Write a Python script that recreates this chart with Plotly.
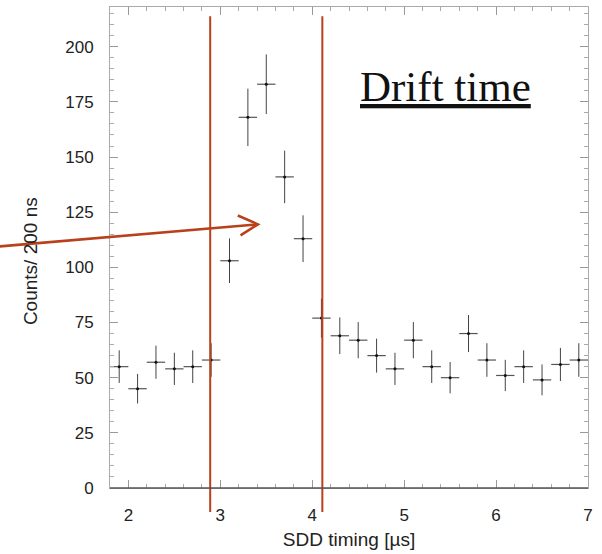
import plotly.graph_objects as go

# ---- data ----
bin_centers = [1.9, 2.1, 2.3, 2.5, 2.7, 2.9, 3.1, 3.3, 3.5, 3.7, 3.9, 4.1, 4.3,
               4.5, 4.7, 4.9, 5.1, 5.3, 5.5, 5.7, 5.9, 6.1, 6.3, 6.5, 6.7, 6.9]
counts = [55, 45, 57, 54, 55, 58, 103, 168, 183, 141, 113, 77, 69,
          67, 60, 54, 67, 55, 50, 70, 58, 51, 55, 49, 56, 58]
count_errors = [7.4, 6.7, 7.5, 7.3, 7.4, 7.6, 10.1, 13.0, 13.5, 11.9, 10.6, 8.8, 8.3,
                8.2, 7.7, 7.3, 8.2, 7.4, 7.1, 8.4, 7.6, 7.1, 7.4, 7.0, 7.5, 7.6]
bin_half_width = [0.1] * len(bin_centers)
x_ticks = [2, 3, 4, 5, 6, 7]
y_ticks = [0, 25, 50, 75, 100, 125, 150, 175, 200]
window_edges = [2.89, 4.11]
arrow_tail = (0.60, 109.5)
arrow_tip = (3.41, 119.5)

X0, X1 = 1.8, 7.0
Y0, Y1 = 0, 218
RED = "#B8401A"

def xp(x):
    return (x - X0) / (X1 - X0)

def yp(y):
    return (y - Y0) / (Y1 - Y0)

fig = go.Figure()
fig.add_trace(go.Scatter(
    x=bin_centers, y=counts, mode="markers",
    marker=dict(size=3, color="#111"),
    error_y=dict(type="data", array=count_errors, width=0, thickness=1, color="#444"),
    error_x=dict(type="data", array=bin_half_width, width=0, thickness=1.2, color="#555"),
    showlegend=False, hoverinfo="x+y",
))

shapes = []
for xe in window_edges:
    shapes.append(dict(type="line", xref="paper", yref="paper",
                       x0=xp(xe), x1=xp(xe), y0=-0.05, y1=0.981,
                       line=dict(color=RED, width=2)))
# arrow shaft
shapes.append(dict(type="line", xref="paper", yref="paper",
                   x0=xp(arrow_tail[0]), y0=yp(arrow_tail[1]),
                   x1=xp(arrow_tip[0]), y1=yp(arrow_tip[1]),
                   line=dict(color=RED, width=2.5)))
# arrow head (open chevron)
tipx, tipy = xp(arrow_tip[0]), yp(arrow_tip[1])
shapes.append(dict(type="path", xref="paper", yref="paper",
                   path=f"M {xp(3.19)} {yp(123.5)} L {tipx} {tipy} L {xp(3.22)} {yp(114.5)}",
                   line=dict(color=RED, width=2.5)))
# dark bottom axis line
shapes.append(dict(type="line", xref="paper", yref="paper", x0=0, x1=1, y0=0, y1=0,
                   line=dict(color="#555", width=1.5)))

fig.update_layout(
    width=602, height=554,
    margin=dict(l=110, r=14, t=7, b=66),
    paper_bgcolor="white", plot_bgcolor="white",
    font=dict(family="Liberation Sans, Arial, sans-serif", size=17, color="#222"),
    shapes=shapes,
    annotations=[
        dict(text="<u>Drift time</u>", xref="paper", yref="paper",
             x=xp(5.45), y=yp(182), xanchor="center", yanchor="middle",
             showarrow=False,
             font=dict(family="Liberation Serif, Times New Roman, serif", size=43, color="#111")),
        dict(text="Counts/ 200 ns", xref="paper", yref="paper",
             x=-0.165, y=0.472, xanchor="center", yanchor="middle", textangle=-90,
             showarrow=False, font=dict(size=19, color="#222")),
    ],
)
fig.update_xaxes(
    range=[X0, X1], tickvals=x_ticks, ticktext=[str(v) for v in x_ticks],
    showgrid=False, zeroline=False, automargin=False,
    showline=True, linecolor="#aaa", linewidth=1, mirror="ticks",
    ticks="inside", ticklen=8, tickcolor="#999", tickwidth=1,
    minor=dict(dtick=0.2, ticks="inside", ticklen=4, tickcolor="#aaa", showgrid=False),
    ticklabelstandoff=12,
    title=dict(text="SDD timing [µs]", font=dict(size=19), standoff=8),
)
fig.update_yaxes(
    range=[Y0, Y1], tickvals=y_ticks, ticktext=[str(v) for v in y_ticks],
    showgrid=False, zeroline=False, automargin=False,
    showline=True, linecolor="#aaa", linewidth=1, mirror="ticks",
    ticks="inside", ticklen=8, tickcolor="#999", tickwidth=1,
    minor=dict(dtick=5, ticks="inside", ticklen=4, tickcolor="#aaa", showgrid=False),
    ticklabelstandoff=12,
)

fig.write_html("out.html")
